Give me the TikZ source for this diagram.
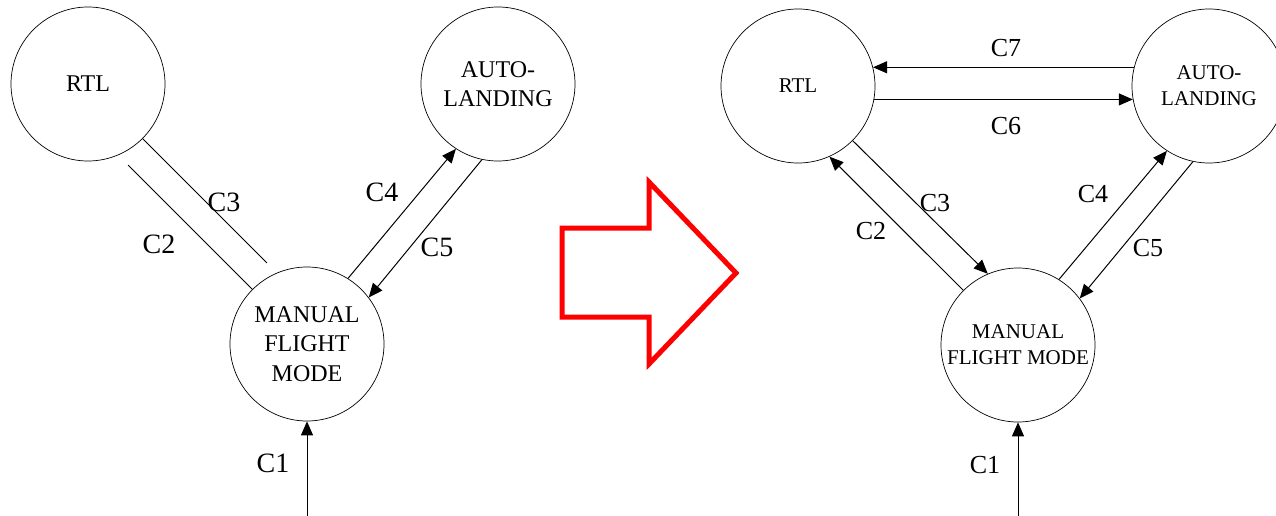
\documentclass[tikz,border=0pt]{standalone}
\usepackage{fontspec}
\setmainfont{Liberation Serif}
\usetikzlibrary{arrows.meta}

\begin{document}
\begin{tikzpicture}[x=1pt,y=-1pt,>={Triangle[length=14pt,width=12pt]},
mode/.style={circle,draw,line width=.7pt,minimum size=154pt,inner sep=0pt,align=center},
big/.style={font=\fontsize{24}{29.5}\selectfont},
small/.style={font=\fontsize{21}{26}\selectfont},
lbl/.style={inner sep=0pt}]
\useasboundingbox (0,0) rectangle (1276,516);

\node[mode,big](rtl-l) at (88,84){RTL};
\node[mode,big](auto-l) at (498,84){AUTO-\\LANDING};
\node[mode,big](manual-l) at (307,344){MANUAL\\FLIGHT\\MODE};
\coordinate (in-l) at (307,516);

\begin{scope}[line width=1pt]
\draw[shorten >=14pt] (rtl-l.-45)--(manual-l.113);
\draw[shorten <=14pt] (rtl-l.-67)--(manual-l.135);
\draw[->] (manual-l.58)--(auto-l.-123);
\draw[->] (auto-l.-102)--(manual-l.37);
\draw[->] (in-l)--(manual-l);
\end{scope}

\begin{scope}[font=\fontsize{28}{28}\selectfont]
\node[lbl](c1-l) at (273,463){C1};
\node[lbl](c2-l) at (159,244){C2};
\node[lbl](c3-l) at (224,202){C3};
\node[lbl](c4-l) at (382,192){C4};
\node[lbl](c5-l) at (437,247){C5};
\end{scope}

\draw[red,line width=5pt] (562,228)--(649,228)--(649,182)--(736,273)--(649,364)--(649,317)--(562,317)--cycle;

\node[mode,small](rtl-r) at (798,86){RTL};
\node[mode,small](auto-r) at (1209,86){AUTO-\\LANDING};
\node[mode,small](manual-r) at (1018,345){MANUAL\\FLIGHT MODE};
\coordinate (in-r) at (1018,516);

\begin{scope}[->, line width=1pt]
\draw (auto-r.166)--(rtl-r.14);
\draw (rtl-r.-10)--(auto-r.-170);
\draw (rtl-r.-45)--(manual-r.113);
\draw (manual-r.135)--(rtl-r.-66);
\draw (manual-r.58)--(auto-r.-123);
\draw (auto-r.-102)--(manual-r.37);
\draw (in-r)--(manual-r);
\end{scope}

\begin{scope}[font=\fontsize{26}{26}\selectfont]
\node[lbl](c1-r) at (985,465){C1};
\node[lbl](c2-r) at (871,231){C2};
\node[lbl](c3-r) at (935,203){C3};
\node[lbl](c4-r) at (1093,194){C4};
\node[lbl](c5-r) at (1148,248){C5};
\node[lbl](c6-r) at (1006,126){C6};
\node[lbl](c7-r) at (1006,48){C7};
\end{scope}
\end{tikzpicture}
\end{document}
